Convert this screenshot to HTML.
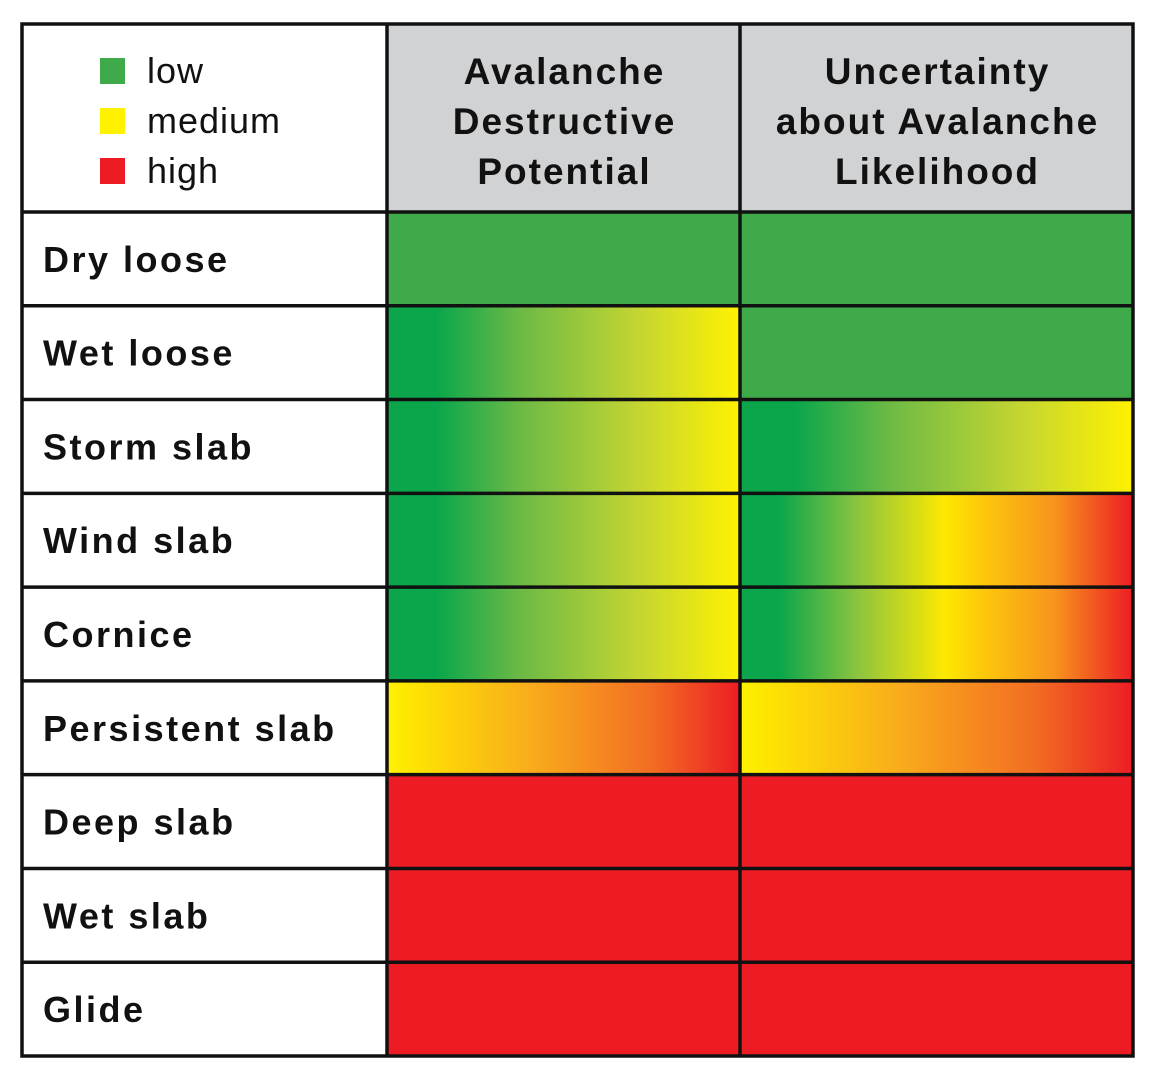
<!DOCTYPE html>
<html><head><meta charset="utf-8"><style>
html,body{margin:0;padding:0;background:#fff;}
svg{display:block;}
</style></head><body>
<svg id="chart" width="1156" height="1090" xmlns="http://www.w3.org/2000/svg" font-family="'Liberation Sans', sans-serif">
<defs id="defs"></defs>
<g id="cells"></g>
<g id="grid"></g>
<g id="labels"></g>
</svg>
<script>
const rowLabels = ["Dry loose","Wet loose","Storm slab","Wind slab","Cornice","Persistent slab","Deep slab","Wet slab","Glide"];
const columnTitles = [["Avalanche","Destructive","Potential"],["Uncertainty","about Avalanche","Likelihood"]];
// levels: 0 = low, 1 = medium, 2 = high ; [start, end]
const destructiveFrom = [0,0,0,0,0,1,2,2,2];
const destructiveTo   = [0,1,1,1,1,2,2,2,2];
const uncertaintyFrom = [0,0,0,0,0,1,2,2,2];
const uncertaintyTo   = [0,0,1,2,2,2,2,2,2];
const legendLabels = ["low","medium","high"];

const NS="http://www.w3.org/2000/svg";
const flat=["#3eaa49","#fff200","#ed1c24"];
const L=22,T=24,R=1133,B=1056,HB=212,C1=387,C2=740;
const rowH=(B-HB)/rowLabels.length;
const colX=[C1,C2,R];
function rowY(i){return HB+i*rowH;}
function el(tag,attrs,parent){const e=document.createElementNS(NS,tag);for(const k in attrs)e.setAttribute(k,attrs[k]);parent.appendChild(e);return e;}
function stopsFor(a,b){
  if(a===b) return [[0,flat[a]],[1,flat[a]]];
  if(a===0&&b===1) return [[0,"#0ca54b"],[0.14,"#0aa64b"],[0.38,"#6dba45"],[0.72,"#c6d631"],[1,"#fff200"]];
  if(a===0&&b===2) return [[0,"#0ca54b"],[0.1,"#0aa64b"],[0.3,"#8cc43f"],[0.52,"#fde900"],[0.62,"#fdc70c"],[0.8,"#f7941d"],[1,"#ed1c24"]];
  if(a===1&&b===2) return [[0,"#fff200"],[0.05,"#fde800"],[0.4,"#f9ad1b"],[0.75,"#f26d23"],[1,"#ed1c24"]];
  return [[0,flat[a]],[1,flat[b]]];
}
const defs=document.getElementById('defs'),cells=document.getElementById('cells'),grid=document.getElementById('grid'),labels=document.getElementById('labels');
const hb1=el('rect',{x:C1,y:T,width:R-C1,height:HB-T,fill:"#d1d2d4"},cells);


const series=[[destructiveFrom,destructiveTo],[uncertaintyFrom,uncertaintyTo]];
rowLabels.forEach((lab,i)=>{
  series.forEach((s,c)=>{
    const id="g"+i+"_"+c;
    const g=el('linearGradient',{id:id,x1:0,y1:0,x2:1,y2:0},defs);
    stopsFor(s[0][i],s[1][i]).forEach(st=>el('stop',{offset:st[0],'stop-color':st[1]},g));
    const r=el('rect',{x:colX[c],y:rowY(i),width:colX[c+1]-colX[c],height:rowH,fill:"url(#"+id+")"},cells);
    
    
  });
  const t=el('text',{x:43,y:rowY(i)+rowH/2+13,'font-size':36,'font-weight':'bold','letter-spacing':2.5,fill:"#111"},labels);
  t.textContent=lab;
  
  
});
const sw=3.5;
el('rect',{x:L,y:T,width:R-L,height:B-T,fill:"none",stroke:"#111",'stroke-width':sw},grid);
[C1,C2].forEach(x=>el('line',{x1:x,y1:T,x2:x,y2:B,stroke:"#111",'stroke-width':sw},grid));
for(let i=0;i<rowLabels.length;i++){el('line',{x1:L,y1:rowY(i),x2:R,y2:rowY(i),stroke:"#111",'stroke-width':sw},grid);}
columnTitles.forEach((lines,c)=>{
  const cx=(colX[c]+colX[c+1])/2;
  lines.forEach((ln,k)=>{
    const t=el('text',{x:cx+1,y:84+k*50,'text-anchor':'middle','font-size':37,'font-weight':'bold','letter-spacing':2,fill:"#111"},labels);
    t.textContent=ln;
    
    
  });
});
legendLabels.forEach((lab,k)=>{
  const y=71+k*50;
  const sq=el('rect',{x:100,y:y-13,width:25,height:26,fill:flat[k]},labels);
  
  
  const t=el('text',{x:147,y:y+12,'font-size':36,'letter-spacing':1,fill:"#111"},labels);
  t.textContent=lab;
  
  
});
</script>
</body></html>
